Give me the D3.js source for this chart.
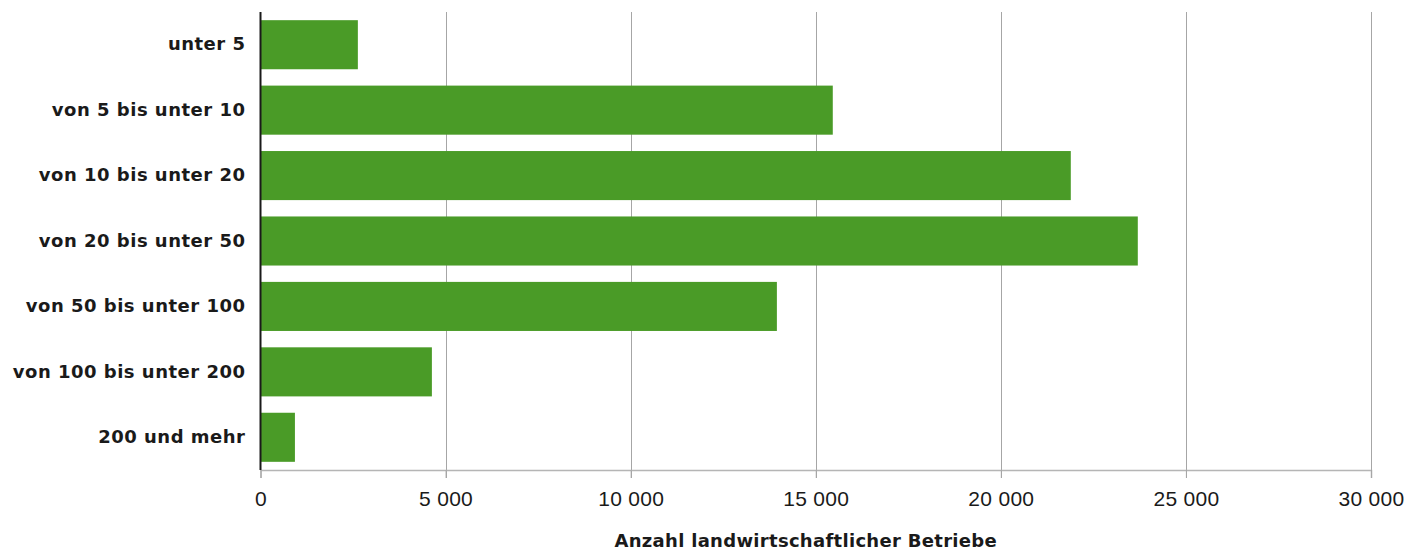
<!DOCTYPE html>
<html>
<head>
<meta charset="utf-8">
<script src="https://cdn.jsdelivr.net/npm/d3@7"></script>
<style>
  body { margin: 0; background: #fff; }
  text { font-family: "Liberation Sans", Arial, sans-serif; fill: #1a1a1a; }
  .bold { font-family: "DejaVu Sans", sans-serif; font-weight: bold; }
</style>
</head>
<body>
<svg width="1422" height="551"></svg>
<script>
var categories = ["unter 5", "von 5 bis unter 10", "von 10 bis unter 20", "von 20 bis unter 50",
                  "von 50 bis unter 100", "von 100 bis unter 200", "200 und mehr"];
var betriebe = [2630, 15460, 21890, 23700, 13950, 4630, 930];
var tickValues = [0, 5000, 10000, 15000, 20000, 25000, 30000];
var axisTitle = "Anzahl landwirtschaftlicher Betriebe";

var plotL = 260.5, plotR = 1371, plotT = 12, plotB = 470;
var svg = d3.select("svg");

var x = d3.scaleLinear().domain([0, 30000]).range([plotL, plotR]);
var y = d3.scaleBand().domain(categories).range([plotT, plotB])
    .paddingInner(0.25).paddingOuter(0.125);

var fmt = function(d){ return d3.format(",")(d).replace(/,/g, " "); };

// grid
svg.append("g").selectAll("line")
  .data(tickValues.slice(1))
  .enter().append("line")
  .attr("x1", function(d){ return Math.round(x(d)) + 0.5; })
  .attr("x2", function(d){ return Math.round(x(d)) + 0.5; })
  .attr("y1", plotT).attr("y2", plotB + 8)
  .attr("stroke", "#a6a6a6").attr("stroke-width", 1);

// bars
svg.append("g").selectAll("rect")
  .data(betriebe)
  .enter().append("rect")
  .attr("x", x(0))
  .attr("y", function(d, i){ return y(categories[i]); })
  .attr("width", function(d){ return x(d) - x(0); })
  .attr("height", y.bandwidth())
  .attr("fill", "#4a9b27");

// x axis
var xAxis = svg.append("g").attr("transform", "translate(0," + plotB + ")")
  .call(d3.axisBottom(x).tickValues(tickValues).tickFormat(fmt).tickSize(8).tickPadding(13));
xAxis.select(".domain").attr("stroke", "#b5b5b5").attr("stroke-width", 1.5);
xAxis.selectAll(".tick line").attr("stroke", "#a6a6a6");
xAxis.selectAll("text").style("font-size", "21px").style("letter-spacing", "0.3px")
  .attr("fill", "#1a1a1a");

// y axis
var yAxis = svg.append("g").attr("transform", "translate(" + plotL + ",0)")
  .call(d3.axisLeft(y).tickSize(0).tickPadding(15));
yAxis.select(".domain").attr("stroke", "#1a1a1a").attr("stroke-width", 2)
  .attr("d", "M0," + plotT + "V" + plotB);
yAxis.selectAll("text").attr("class", "bold").style("font-size", "18px")
  .style("letter-spacing", "0.5px").attr("fill", "#1a1a1a");

// title
svg.append("text")
  .attr("class", "bold")
  .attr("x", (plotL + plotR) / 2 - 10).attr("y", 547)
  .attr("text-anchor", "middle")
  .style("font-size", "18px").style("letter-spacing", "0.3px")
  .text(axisTitle);
</script>
</body>
</html>
